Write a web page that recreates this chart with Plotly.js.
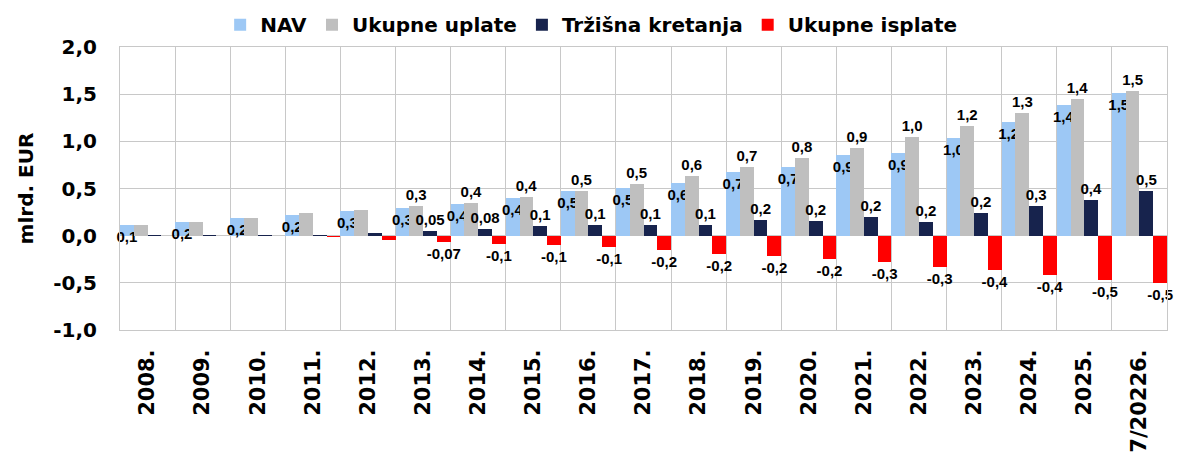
<!DOCTYPE html>
<html>
<head>
<meta charset="utf-8">
<script src="https://cdn.plot.ly/plotly-3.0.1.min.js"></script>
<style>
  html, body { margin: 0; padding: 0; background: #fff; }
  #chart { width: 1185px; height: 453px; }
</style>
</head>
<body>
<div id="chart"></div>
<script>
const years = ['2008.', '2009.', '2010.', '2011.', '2012.', '2013.', '2014.', '2015.', '2016.', '2017.',
               '2018.', '2019.', '2020.', '2021.', '2022.', '2023.', '2024.', '2025.', '7/20226.'];

// values in mlrd. EUR
const nav     = [0.11, 0.15, 0.19, 0.22, 0.26, 0.29, 0.34, 0.40, 0.47, 0.51, 0.56, 0.68, 0.73, 0.85, 0.88, 1.04, 1.21, 1.38, 1.51];
const uplate  = [0.11, 0.15, 0.19, 0.24, 0.27, 0.31, 0.35, 0.41, 0.47, 0.55, 0.63, 0.73, 0.82, 0.93, 1.05, 1.16, 1.30, 1.45, 1.53];
const trziste = [0.003, 0.005, 0.005, 0.006, 0.03, 0.05, 0.075, 0.10, 0.115, 0.115, 0.115, 0.17, 0.16, 0.20, 0.15, 0.24, 0.31, 0.38, 0.47];
const isplate = [-0.002, -0.003, -0.005, -0.01, -0.05, -0.07, -0.09, -0.10, -0.12, -0.15, -0.19, -0.22, -0.25, -0.28, -0.33, -0.36, -0.42, -0.47, -0.505];

// data labels as shown (blank where the chart shows none)
const navLabels     = ['0,1', '0,2', '0,2', '0,2', '0,3', '0,3', '0,4', '0,4', '0,5', '0,5', '0,6', '0,7', '0,7', '0,9', '0,9', '1,0', '1,2', '1,4', '1,5'];
const uplateLabels  = ['', '', '', '', '', '0,3', '0,4', '0,4', '0,5', '0,5', '0,6', '0,7', '0,8', '0,9', '1,0', '1,2', '1,3', '1,4', '1,5'];
const trzisteLabels = ['', '', '', '', '', '0,05', '0,08', '0,1', '0,1', '0,1', '0,1', '0,2', '0,2', '0,2', '0,2', '0,2', '0,3', '0,4', '0,5'];
const isplateLabels = ['', '', '', '', '', '-0,07', '-0,1', '-0,1', '-0,1', '-0,2', '-0,2', '-0,2', '-0,2', '-0,3', '-0,3', '-0,4', '-0,4', '-0,5', '-0,5'];

// y axis ticks (hyphen minus as in the original)
const yTicks = [-1, -0.5, 0, 0.5, 1, 1.5, 2];
const yTickText = ['-1,0', '-0,5', '0,0', '0,5', '1,0', '1,5', '2,0'];

const labelFont = { family: 'Liberation Sans, Arial, sans-serif', size: 15, color: '#000', weight: 'bold' };
const axisFont = 'DejaVu Sans, sans-serif';

function series(name, y, text, color, pos) {
    return {
        type: 'bar',
        name: name,
        x: years,
        y: y,
        text: text,
        textposition: pos,
        textangle: 0,
        insidetextanchor: 'end',
        textfont: labelFont,
        insidetextfont: labelFont,
        outsidetextfont: labelFont,
        constraintext: 'none',
        cliponaxis: false,
        hoverinfo: 'x+y',
        marker: { color: color }
    };
}

var data = [
    series('NAV', nav, navLabels, '#9dc8f5', 'inside'),
    series('Ukupne uplate', uplate, uplateLabels, '#bfbfbf', 'outside'),
    series('Tržišna kretanja', trziste, trzisteLabels, '#17234d', 'outside'),
    series('Ukupne isplate', isplate, isplateLabels, '#ff0000', 'outside')
];

const layout = {
    width: 1185,
    height: 453,
    margin: { l: 120, r: 18, t: 47, b: 123, autoexpand: false },
    paper_bgcolor: '#fff',
    plot_bgcolor: '#fff',
    barmode: 'group',
    bargap: 0,
    bargroupgap: 0,
    separators: ',.',
    showlegend: true,
    legend: {
        orientation: 'h',
        x: 0.45, xanchor: 'center',
        y: 1.01, yanchor: 'bottom',
        font: { family: axisFont, size: 20, color: '#000', weight: 'bold' },
        itemwidth: 20,
        tracegroupgap: 0
    },
    xaxis: {
        type: 'category',
        tickson: 'boundaries',
        showgrid: true,
        gridcolor: '#c8c8c8',
        showline: true,
        linecolor: '#c8c8c8',
        mirror: true,
        ticks: '',
        ticklabelstandoff: 10,
        tickangle: -90,
        tickfont: { family: axisFont, size: 21, color: '#000', weight: 'bold' },
        fixedrange: true
    },
    yaxis: {
        range: [-1, 2],
        tickmode: 'array',
        tickvals: yTicks,
        ticktext: yTickText,
        showgrid: true,
        gridcolor: '#c8c8c8',
        zeroline: true,
        zerolinecolor: '#c8c8c8',
        zerolinewidth: 1,
        showline: true,
        linecolor: '#c8c8c8',
        mirror: true,
        ticks: '',
        ticklabelstandoff: 18,
        tickfont: { family: axisFont, size: 20, color: '#000', weight: 'bold' },
        title: {
            text: 'mlrd. EUR',
            standoff: 14,
            font: { family: axisFont, size: 20, color: '#000', weight: 'bold' }
        },
        fixedrange: true
    }
};

Plotly.newPlot('chart', data, layout, { displayModeBar: false, staticPlot: true });
</script>
</body>
</html>
